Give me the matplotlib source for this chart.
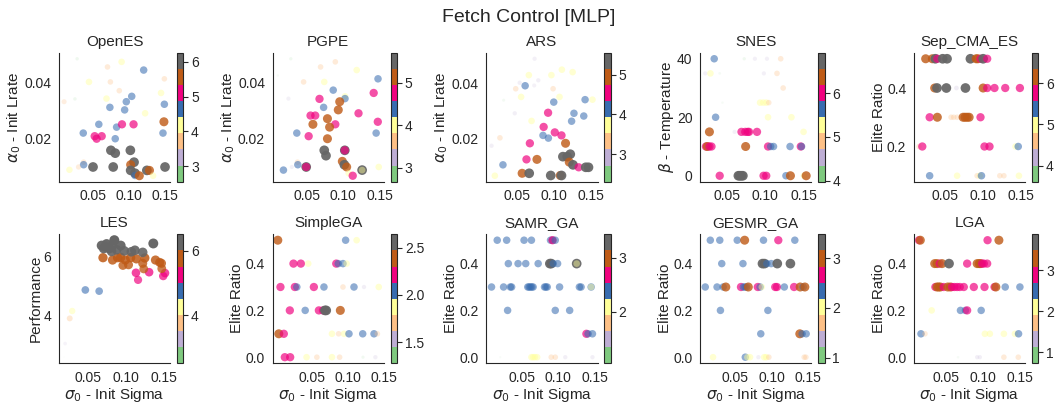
import numpy as np
import matplotlib.pyplot as plt
import seaborn as sns
from matplotlib.colors import Normalize
from matplotlib.cm import ScalarMappable

sns.set_style("white")
plt.rcParams["font.family"] = ["Liberation Sans", "DejaVu Sans"]

titles = ["OpenES", "PGPE", "ARS", "SNES", "Sep_CMA_ES",
          "LES", "SimpleGA", "SAMR_GA", "GESMR_GA", "LGA"]
ylabels = [r"$\alpha_0$ - Init Lrate", r"$\alpha_0$ - Init Lrate", r"$\alpha_0$ - Init Lrate",
           r"$\beta$ - Temperature", "Elite Ratio", "Performance",
           "Elite Ratio", "Elite Ratio", "Elite Ratio", "Elite Ratio"]
xlabel = r"$\sigma_0$ - Init Sigma"
xticks = [0.05, 0.10, 0.15]
yticks = [[0.02, 0.04], [0.02, 0.04], [0.02, 0.04], [0, 20, 40], [0.2, 0.4],
          [4, 6], [0.0, 0.2, 0.4], [0.0, 0.2, 0.4], [0.0, 0.2, 0.4], [0.0, 0.2, 0.4]]
# colour range of each panel (performance)
cbar_ranges = [(2.56, 6.25), (2.67, 5.71), (2.31, 5.55), (3.98, 6.92), (3.61, 6.73),
               (2.52, 6.5), (1.28, 2.64), (1.04, 3.44), (0.89, 3.48), (0.73, 3.88)]
cbar_ticks = [[3, 4, 5, 6], [3, 4, 5], [3, 4, 5], [4, 5, 6], [4, 5, 6],
              [4, 6], [1.5, 2.0, 2.5], [2, 3], [1, 2, 3], [1, 2, 3]]

# OpenES
openes_sigma = [0.028, 0.070, 0.0895, 0.120, 0.0444, 0.074, 0.1486, 0.0863, 0.144, 0.1035,
                0.010, 0.025, 0.0686, 0.096, 0.1486, 0.0733, 0.0937, 0.122, 0.148, 0.058,
                0.0826, 0.090, 0.106, 0.0365, 0.1467, 0.0523, 0.062, 0.055, 0.0807, 0.0747,
                0.0807, 0.1016, 0.037, 0.037, 0.030, 0.0174, 0.050, 0.0779, 0.1067, 0.102,
                0.102, 0.108, 0.108, 0.114, 0.1244, 0.128, 0.133, 0.1495]
openes_param = [0.0483, 0.0454, 0.0472, 0.0443, 0.0401, 0.0401, 0.0412, 0.0370, 0.0362, 0.0350,
                0.0331, 0.0341, 0.0342, 0.0331, 0.0322, 0.0311, 0.0302, 0.0290, 0.0260, 0.0251,
                0.0241, 0.0251, 0.0251, 0.0220, 0.0220, 0.0209, 0.0209, 0.0200, 0.0200, 0.0159,
                0.0149, 0.0159, 0.0117, 0.0108, 0.0100, 0.0090, 0.0100, 0.0100, 0.0117, 0.0108,
                0.0088, 0.0078, 0.0070, 0.0069, 0.0088, 0.0088, 0.0069, 0.0100]
openes_perf = [3.0, 3.7, 4.17, 4.64, 4.17, 3.71, 3.71, 3.71, 4.17, 4.64,
               3.5, 3.0, 4.17, 4.64, 4.64, 4.64, 4.64, 4.17, 5.56, 4.64,
               4.64, 5.10, 5.10, 4.64, 4.64, 5.10, 5.10, 5.10, 4.64, 6.02,
               6.02, 6.02, 3.71, 4.64, 3.6, 4.1, 6.02, 6.02, 6.02, 5.56,
               6.02, 6.02, 4.64, 5.56, 6.02, 5.56, 4.17, 6.02]

# PGPE
pgpe_sigma = [0.0273, 0.0889, 0.0093, 0.0685, 0.1185, 0.045, 0.0736, 0.148, 0.086, 0.142,
              0.024, 0.1023, 0.1023, 0.067, 0.095, 0.0727, 0.093, 0.121, 0.0546, 0.0611,
              0.078, 0.1477, 0.0579, 0.0889, 0.081, 0.0356, 0.1454, 0.052, 0.078, 0.0736,
              0.076, 0.102, 0.102, 0.0366, 0.037, 0.0287, 0.0171, 0.0486, 0.0486, 0.0986,
              0.1014, 0.1046, 0.1074, 0.113, 0.126, 0.126, 0.149]
pgpe_param = [0.0483, 0.0472, 0.0424, 0.0454, 0.0443, 0.0401, 0.0401, 0.0412, 0.0372, 0.0362,
              0.0342, 0.0350, 0.0342, 0.0341, 0.0331, 0.0311, 0.0302, 0.0290, 0.0282, 0.0282,
              0.0271, 0.0260, 0.0251, 0.0251, 0.0241, 0.0220, 0.0220, 0.0209, 0.0200, 0.0159,
              0.0140, 0.0159, 0.0159, 0.0117, 0.0108, 0.0100, 0.0089, 0.0100, 0.0100, 0.0120,
              0.0108, 0.0100, 0.0078, 0.0069, 0.0089, 0.0089, 0.0100]
pgpe_perf = [3.0, 3.62, 2.86, 3.62, 4.0, 3.62, 4.0, 4.38, 4.38, 4.76,
             3.2, 4.0, 4.38, 4.76, 5.14, 4.38, 5.14, 4.76, 4.76, 4.76,
             5.14, 4.76, 5.14, 4.76, 5.14, 4.38, 4.38, 4.76, 5.14, 5.52,
             5.52, 5.52, 4.76, 3.62, 4.38, 3.2, 4.38, 5.52, 4.76, 5.14,
             5.52, 5.14, 4.0, 4.76, 5.52, 4.0, 4.0]

# ARS
ars_sigma = [0.0742, 0.0664, 0.097, 0.1112, 0.1258, 0.054, 0.0792, 0.0737, 0.0486, 0.0614,
             0.0993, 0.0559, 0.108, 0.0322, 0.1002, 0.1427, 0.1527, 0.0473, 0.0925, 0.1276,
             0.1409, 0.1244, 0.0701, 0.0865, 0.1016, 0.0856, 0.0929, 0.1107, 0.0272, 0.0158,
             0.0678, 0.1162, 0.1126, 0.1185, 0.1226, 0.0632, 0.0774, 0.1212, 0.1263, 0.134,
             0.1436, 0.1473, 0.0313, 0.0573, 0.0669, 0.0961, 0.109, 0.1107, 0.0203]
ars_param = [0.0492, 0.0432, 0.0432, 0.0452, 0.0443, 0.0404, 0.0413, 0.0394, 0.0382, 0.0393,
             0.0382, 0.0352, 0.0352, 0.0340, 0.0333, 0.0342, 0.0342, 0.0292, 0.0294, 0.0292,
             0.0282, 0.0263, 0.0264, 0.0242, 0.0222, 0.0211, 0.0201, 0.0211, 0.0202, 0.0173,
             0.0182, 0.0182, 0.0133, 0.0133, 0.0142, 0.0123, 0.0123, 0.0113, 0.0103, 0.0094,
             0.0094, 0.0094, 0.0103, 0.0072, 0.0072, 0.0064, 0.0064, 0.0064, 0.0063]
ars_perf = [2.9, 3.73, 3.73, 3.73, 3.73, 2.92, 2.92, 2.85, 3.32, 4.13,
            3.32, 3.73, 3.73, 2.6, 4.13, 4.13, 3.73, 2.92, 4.54, 4.13,
            4.13, 4.13, 3.73, 4.54, 4.54, 4.13, 4.13, 4.54, 3.32, 2.92,
            4.54, 4.94, 5.35, 5.35, 5.35, 4.54, 4.94, 4.94, 5.35, 4.54,
            5.35, 5.35, 4.13, 4.94, 5.35, 5.35, 4.94, 5.35, 3.73]

# SNES
snes_sigma = [0.0339, 0.0728, 0.0866, 0.1022, 0.120,
              0.0223, 0.029, 0.041, 0.0982, 0.1152,
              0.1232,
              0.0446, 0.0933, 0.0973, 0.1013, 0.1045,
              0.0357, 0.1036, 0.1339,
              0.0277, 0.0603, 0.0692, 0.0741, 0.0772, 0.079, 0.0893, 0.1496,
              0.0232, 0.025, 0.0277, 0.0304, 0.0746, 0.1036, 0.107, 0.1107, 0.1321, 0.146, 0.147,
              0.041, 0.0652, 0.067, 0.069, 0.071, 0.0978, 0.1013, 0.1268, 0.1326, 0.150, 0.153]
snes_param = [40, 40, 40, 40, 40,
              35, 35, 35, 35, 35,
              30,
              25, 25, 25, 25, 25,
              20, 20, 20,
              15, 15, 15, 15, 15, 15, 15, 15,
              10, 10, 10, 10, 10, 10, 10, 10, 10, 10, 10,
              0, 0, 0, 0, 0, 0, 0, 0, 0, 0, 0]
snes_perf = [5.63, 4.3, 4.5, 4.5, 4.9,
             4.5, 5.27, 4.2, 4.5, 4.9,
             4.9,
             4.16, 5.27, 5.27, 5.27, 4.9,
             5.63, 5.27, 5.27,
             6.37, 4.5, 6.0, 6.0, 6.0, 6.0, 6.0, 5.27,
             6.0, 6.37, 6.0, 6.0, 6.37, 6.0, 5.63, 5.63, 5.63, 6.0, 5.63,
             6.0, 6.74, 6.74, 6.74, 6.74, 6.0, 6.0, 5.63, 6.37, 5.27, 6.37]

# Sep_CMA_ES
sep_sigma = [0.0238, 0.0327, 0.0367, 0.0393, 0.0464, 0.0522, 0.0833, 0.0909, 0.0931, 0.0967, 0.1002, 0.1056,
             0.0358, 0.0389, 0.0513, 0.0647, 0.0767, 0.1002, 0.1056, 0.1153, 0.1296, 0.1491,
             0.0291, 0.0393, 0.0576, 0.0611, 0.0656, 0.0736, 0.0762, 0.0789, 0.0816, 0.0967,
             0.0149, 0.0193, 0.102, 0.1087, 0.1433, 0.1469,
             0.0291, 0.0656, 0.0922, 0.0958, 0.098, 0.1224, 0.1278, 0.1478]
sep_param = [0.5] * 12 + [0.4] * 10 + [0.3] * 10 + [0.2] * 6 + [0.1] * 8
sep_perf = [6.15, 6.15, 6.54, 5.76, 6.54, 6.54, 6.54, 6.15, 6.15, 5.76, 6.54, 5.76,
            6.15, 6.54, 6.54, 4.3, 6.54, 6.15, 5.76, 5.76, 5.76, 5.76,
            5.76, 6.15, 4.58, 4.58, 4.58, 6.15, 6.15, 6.15, 6.15, 5.76,
            4.58, 5.76, 5.76, 5.76, 4.97, 5.37,
            5.37, 4.97, 4.58, 4.97, 5.37, 4.58, 4.58, 4.97]

# LES (performance on the y axis)
les_sigma = [0.0175, 0.0189, 0.025, 0.0283, 0.0458, 0.0642,
             0.1132, 0.116, 0.1307, 0.1495, 0.1519,
             0.0693, 0.082, 0.0929, 0.0958, 0.099, 0.1033, 0.1137, 0.1222, 0.125, 0.1392,
             0.1448, 0.1472, 0.1476, 0.1236, 0.0887, 0.1061,
             0.0675, 0.0703, 0.0741, 0.0778, 0.0844, 0.0807, 0.0873, 0.0929, 0.0976, 0.1071,
             0.1118, 0.1222, 0.1363, 0.0726, 0.0811]
les_param = [2.6, 3.06, 3.91, 4.16, 4.87, 4.83,
             5.45, 5.21, 5.47, 5.34, 5.44,
             5.96, 5.88, 5.97, 5.70, 5.88, 5.72, 5.92, 5.77, 5.95, 5.88,
             5.80, 5.77, 5.59, 5.58, 5.96, 5.96,
             6.37, 6.27, 6.42, 6.27, 6.55, 6.17, 6.23, 6.37, 6.19, 6.16,
             6.21, 6.14, 6.44, 6.33, 6.35]
les_perf = les_param

# SimpleGA
simplega_sigma = [0.0019, 0.0967, 0.1121,
                  0.0238, 0.0341, 0.0444, 0.0836, 0.0864, 0.093, 0.0981,
                  0.0056, 0.0257, 0.0285, 0.0523, 0.0664, 0.093, 0.1084, 0.1224, 0.143,
                  0.0187, 0.0402, 0.0593, 0.065, 0.0678, 0.0696, 0.0893,
                  0.0033, 0.0103, 0.0776, 0.0869, 0.0944, 0.1014, 0.1206, 0.1364, 0.1411,
                  0.0117, 0.0192, 0.0421, 0.0565, 0.0776, 0.0883, 0.121, 0.1383]
simplega_param = [0.5] * 3 + [0.4] * 7 + [0.3] * 9 + [0.2] * 7 + [0.1] * 9 + [0.0] * 8
simplega_perf = [2.385, 2.045, 1.875,
                 2.215, 2.215, 1.875, 2.215, 2.045, 2.045, 1.875,
                 2.215, 2.215, 2.045, 2.215, 2.045, 1.705, 2.045, 1.535, 1.875,
                 2.215, 2.045, 2.215, 2.215, 2.555, 2.555, 2.385,
                 2.385, 2.215, 1.875, 1.705, 1.875, 2.045, 2.045, 2.045, 1.705,
                 2.215, 2.215, 1.875, 1.705, 1.875, 1.705, 1.42, 1.535]

# SAMR_GA
samr_sigma = [0.0165, 0.0294, 0.0532, 0.0633, 0.0894, 0.0922, 0.0922, 0.0959,
              0.0317, 0.045, 0.0555, 0.0725, 0.0885, 0.0904, 0.0931, 0.0991, 0.1252, 0.1252,
              0.0087, 0.0252, 0.0344, 0.0362, 0.0583, 0.0601, 0.062, 0.0638, 0.0656, 0.0812,
              0.083, 0.0849, 0.1018, 0.1289, 0.1312, 0.145, 0.145,
              0.0307, 0.0959, 0.1156,
              0.1385, 0.1408, 0.1468,
              0.0206, 0.0633, 0.0656, 0.068, 0.0711, 0.0904, 0.0959, 0.1096, 0.1468]
samr_param = [0.5] * 8 + [0.4] * 10 + [0.3] * 17 + [0.2] * 3 + [0.1] * 3 + [0.0] * 9
samr_perf = [2.39, 2.39, 2.39, 2.39, 2.39, 2.39, 2.69, 2.39,
             2.39, 2.39, 2.39, 2.39, 3.29, 3.29, 2.39, 2.39, 3.29, 2.09,
             2.39, 2.39, 2.39, 2.39, 2.39, 2.39, 2.39, 2.39, 2.39, 2.39,
             2.39, 2.39, 2.39, 2.39, 2.39, 2.39, 2.09,
             2.39, 2.39, 2.39,
             2.69, 2.39, 2.39,
             1.15, 2.09, 2.09, 2.09, 2.09, 1.79, 1.79, 1.49, 1.49]

# GESMR_GA
gesmr_sigma = [0.0165, 0.0294, 0.0532, 0.0633, 0.089, 0.1092, 0.1317,
               0.0321, 0.061, 0.0876, 0.0904, 0.0936, 0.0995, 0.1078, 0.1257,
               0.0096, 0.0257, 0.034, 0.0376, 0.0583, 0.0615, 0.0638, 0.066, 0.0683, 0.0812,
               0.0844, 0.0867, 0.105, 0.1073, 0.1174, 0.1307, 0.139, 0.1431, 0.1454,
               0.0303, 0.095,
               0.0853, 0.1385, 0.1417, 0.1472,
               0.0202, 0.0642, 0.067, 0.0706, 0.0821, 0.0899, 0.0927, 0.0963, 0.1445, 0.1468]
gesmr_param = [0.5] * 7 + [0.4] * 8 + [0.3] * 19 + [0.2] * 2 + [0.1] * 4 + [0.0] * 10
gesmr_perf = [2.34, 2.34, 2.34, 2.99, 2.34, 2.67, 2.34,
              2.34, 2.34, 3.31, 3.31, 2.34, 2.34, 3.31, 3.31,
              2.34, 2.34, 2.34, 2.99, 2.67, 2.34, 2.34, 2.34, 2.99, 2.67,
              2.34, 2.02, 2.67, 2.67, 2.34, 2.67, 2.99, 2.34, 2.99,
              2.34, 2.34,
              2.34, 2.99, 2.34, 2.34,
              2.02, 2.34, 2.02, 2.02, 1.37, 2.02, 2.02, 1.70, 1.70, 1.70]

# LGA
lga_sigma = [0.0135, 0.0153, 0.1059, 0.1212,
             0.0347, 0.0378, 0.0414, 0.0446, 0.054, 0.0784, 0.0919, 0.0946, 0.0964, 0.0986,
             0.1009, 0.1054,
             0.0356, 0.0378, 0.0401, 0.0423, 0.0468, 0.0523, 0.0559, 0.0581, 0.0613, 0.0649,
             0.0685, 0.0739, 0.0874, 0.1018, 0.1153, 0.1171, 0.1297, 0.1495,
             0.0306, 0.0694, 0.0761, 0.0784, 0.0973,
             0.0162, 0.0216, 0.1023, 0.109, 0.1279, 0.1428, 0.1477,
             0.0662, 0.0919, 0.0955, 0.1279, 0.1473]
lga_param = [0.5] * 4 + [0.4] * 12 + [0.3] * 18 + [0.2] * 5 + [0.1] * 7 + [0.0] * 5
lga_perf = [2.89, 3.28, 2.89, 3.28,
            3.28, 3.28, 2.89, 3.28, 3.68, 2.89, 3.28, 3.28, 3.28, 2.89,
            2.89, 2.89,
            2.89, 3.28, 3.28, 3.28, 2.89, 3.28, 3.28, 2.89, 2.89, 2.89,
            2.89, 2.89, 2.89, 2.89, 2.89, 3.28, 2.50, 2.50,
            2.11, 2.50, 2.50, 2.89, 2.50,
            2.50, 1.71, 2.11, 2.11, 2.11, 2.11, 2.50,
            0.93, 1.32, 1.32, 1.71, 1.71]

panels = [
    (openes_sigma, openes_param, openes_perf),
    (pgpe_sigma, pgpe_param, pgpe_perf),
    (ars_sigma, ars_param, ars_perf),
    (snes_sigma, snes_param, snes_perf),
    (sep_sigma, sep_param, sep_perf),
    (les_sigma, les_param, les_perf),
    (simplega_sigma, simplega_param, simplega_perf),
    (samr_sigma, samr_param, samr_perf),
    (gesmr_sigma, gesmr_param, gesmr_perf),
    (lga_sigma, lga_param, lga_perf),
]

cmap = plt.get_cmap("Accent")

fig, axes = plt.subplots(2, 5, figsize=(10.58, 4.07), dpi=100)
fig.subplots_adjust(left=0.0558, right=0.995, top=0.870, bottom=0.108,
                    wspace=0.54, hspace=0.41)

for i, ax in enumerate(axes.flat):
    sigma, param, perf = panels[i]
    perf = np.array(perf)
    lo, hi = cbar_ranges[i]
    norm = Normalize(lo, hi)
    frac = np.clip(norm(perf), 0, 1)
    ax.scatter(sigma, param, c=perf, cmap=cmap, norm=norm,
               s=52 * frac, alpha=frac, linewidths=0)
    ax.set_title(titles[i], fontsize=11, pad=5)
    ax.set_ylabel(ylabels[i], fontsize=11, labelpad=1)
    if i >= 5:
        ax.set_xlabel(xlabel, fontsize=11, labelpad=1)
    ax.set_xticks(xticks)
    ax.set_yticks(yticks[i])
    ax.tick_params(labelsize=10, pad=2)
    ax.spines[["top", "right"]].set_visible(False)
    cb = fig.colorbar(ScalarMappable(norm=norm, cmap=cmap), ax=ax, ticks=cbar_ticks[i])
    cb.ax.tick_params(labelsize=10, pad=2)

fig.suptitle("Fetch Control [MLP]", fontsize=14, y=0.958, va="center")
fig.savefig("out.png", dpi=100)
